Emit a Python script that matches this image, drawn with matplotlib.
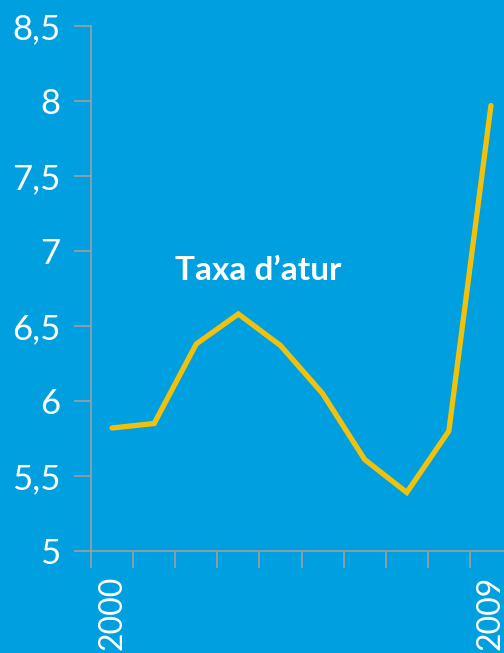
import matplotlib
matplotlib.use("Agg")
import matplotlib.pyplot as plt
import numpy as np

# Dades
anys = ["2000", "2001", "2002", "2003", "2004", "2005", "2006", "2007", "2008", "2009"]
taxa_atur = [5.82, 5.85, 6.38, 6.58, 6.37, 6.05, 5.61, 5.39, 5.80, 7.97]
etiquetes_x = ["2000", "", "", "", "", "", "", "", "", "2009"]
ticks_y = [5, 5.5, 6, 6.5, 7, 7.5, 8, 8.5]
etiquetes_y = ["5", "5,5", "6", "6,5", "7", "7,5", "8", "8,5"]

COR_FONS = "#009FE0"
COR_LINIA = "#F2C10C"
COR_EIX = "#A0A0A0"

plt.rcParams["font.family"] = ["Lato", "DejaVu Sans"]

fig = plt.figure(figsize=(5.04, 6.53), dpi=100, facecolor=COR_FONS)
ax = fig.add_axes([91 / 504, 102 / 653, 421 / 504, 525 / 653])
ax.set_facecolor(COR_FONS)

x = np.arange(len(anys))
ax.plot(x, taxa_atur, color=COR_LINIA, linewidth=3.8, solid_capstyle="round",
        solid_joinstyle="miter", clip_on=False)

ax.set_xlim(-0.5, len(anys) - 0.5)
ax.set_ylim(5, 8.5)

# ticks x a les fronteres de categoria, etiquetes al centre
ax.set_xticks(np.arange(len(anys) + 1) - 0.5)
ax.set_xticklabels([])
ax.set_xticks(x, minor=True)
ax.set_xticklabels(etiquetes_x, minor=True, rotation=90, color="white", fontsize=23,
                   va="top")
ax.tick_params(axis="x", which="minor", length=0, pad=18)
ax.tick_params(axis="x", which="major", length=12, width=1.2, color=COR_EIX, direction="out")

ax.set_yticks(ticks_y)
ax.set_yticklabels(etiquetes_y, color="white", fontsize=25)
ax.tick_params(axis="y", length=12, width=1.2, color=COR_EIX, direction="out", pad=10)

for s in ["top", "right"]:
    ax.spines[s].set_visible(False)
for s in ["left", "bottom"]:
    ax.spines[s].set_color(COR_EIX)
    ax.spines[s].set_linewidth(1.2)

ax.text(0.397, 0.535, "Taxa d\u2019atur", transform=ax.transAxes, ha="center", va="center",
        color="white", fontsize=24, weight="bold")

fig.savefig("out.png", dpi=100, facecolor=COR_FONS)
